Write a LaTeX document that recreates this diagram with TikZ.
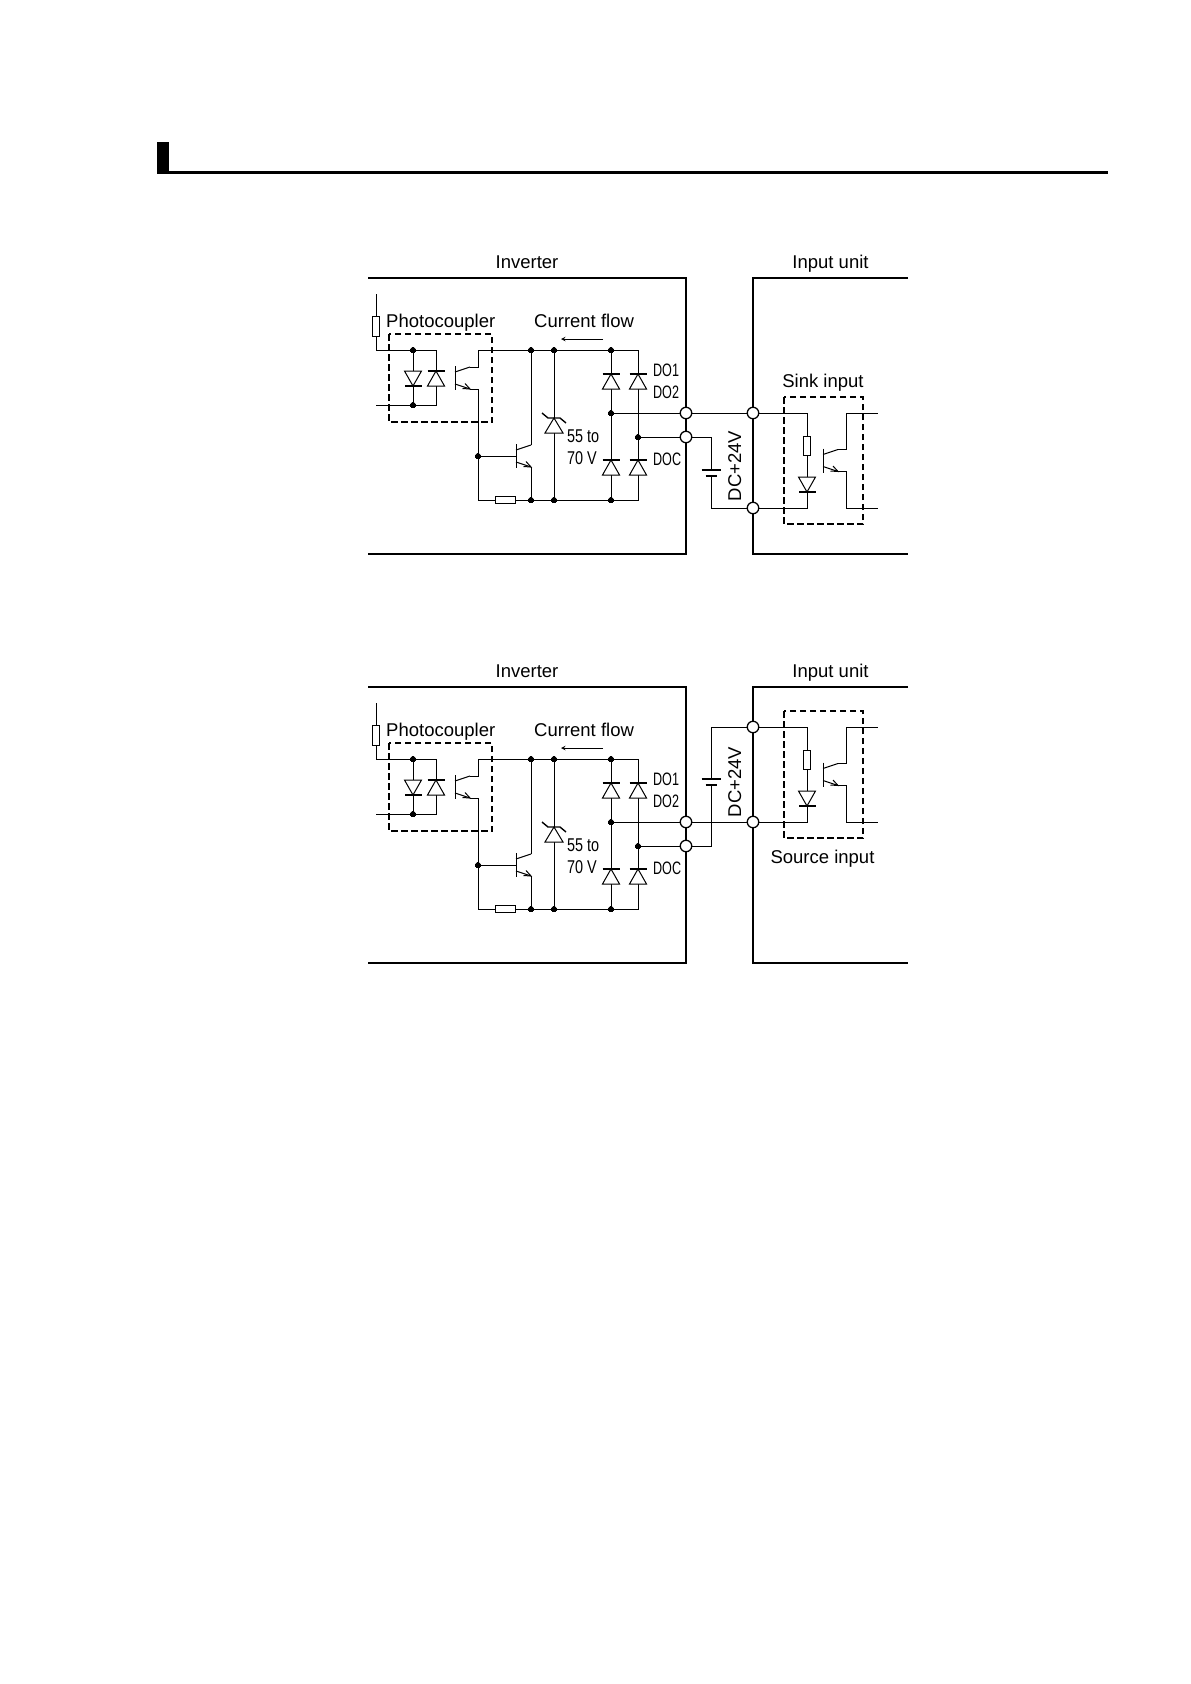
\documentclass[tikz,border=0pt]{standalone}
\usepackage{fontspec}
\setmainfont{Liberation Sans}
\usepackage{tikz}
\usetikzlibrary{arrows}

\tikzset{
    wire/.style={line width=1pt},
    frame/.style={line width=2pt},
    plate/.style={line width=1.8pt},
    dashbox/.style={line width=1.6pt, dash pattern=on 6.5pt off 3.5pt},
    dot/.style={draw, circle, fill=black, inner sep=0pt, minimum size=5.5pt, line width=0pt},
    term/.style={draw, circle, fill=white, inner sep=0pt, minimum size=11.5pt, line width=1.3pt},
    res/.style={draw, fill=white, inner sep=0pt, line width=1pt},
    lbl/.style={inner sep=0pt, anchor=base, font=\fontsize{18.5}{20}\selectfont},
    lblsmall/.style={inner sep=0pt, anchor=base west, font=\fontsize{18.5}{20}\selectfont, xscale=0.78, transform shape},
    lblpin/.style={inner sep=0pt, anchor=base west, font=\fontsize{18}{20}\selectfont, xscale=0.7, transform shape},
    diode/.pic={
        \draw[wire, fill=white] (0,0) -- (-8.5,15) -- (8.5,15) -- cycle;
        \draw[plate] (-8.5,0) -- (8.5,0);
    },
    battery/.pic={
        \fill[white] (-9.5,0.5) rectangle (9.5,5.5);
        \draw[plate] (-9.5,0) -- (9.5,0);
        \draw[line width=2.2pt] (-5.5,6) -- (5.5,6);
    },
    bjt/.pic={
        \coordinate (b) at (0,0);
        \coordinate (c) at (15,-11);
        \coordinate (e) at (15,11);
        \draw[wire] (0,-12) -- (0,12);
        \draw[wire] (0,-6) -- (c);
        \draw[wire] (0,6) -- (e);
        \draw[wire] (10,5.5) -- (15,11) -- (7.5,10.5);
    },
    inverter/.pic={
        % Boxes and their titles
        \draw[frame] (368,278) -| (686,554) -- (368,554);
        \draw[frame] (908,278) -| (753,554) -- (908,554);
        \node[lbl] (title) at (527,268) {Inverter};
        \node[lbl] (unit) at (830.5,268) {Input unit};
        % Nodes on the rails
        \coordinate (in) at (376,294);
        \coordinate (out) at (376,405);
        \coordinate (k) at (376,350);
        \coordinate (g1) at (436,350);
        \coordinate (g2) at (436,405);
        \coordinate (h1) at (478,350);
        \coordinate (h2) at (478,500);
        \coordinate (e1) at (638,350);
        \coordinate (e2) at (638,500);
        \coordinate (cf1) at (603,339);
        \coordinate (cf2) at (561,339);
        \node[dot] (a1) at (413,350) {};
        \node[dot] (a2) at (413,405) {};
        \node[dot] (b) at (478,456) {};
        \node[dot] (c1) at (531,350) {};
        \node[dot] (c2) at (554,350) {};
        \node[dot] (c3) at (611,350) {};
        \node[dot] (d1) at (531,500) {};
        \node[dot] (d2) at (554,500) {};
        \node[dot] (d3) at (611,500) {};
        \node[dot] (f1) at (611,413) {};
        \node[dot] (f2) at (638,437) {};
        % Wires
        \pic (q1) at (455,378) {bjt};
        \pic (q2) at (516,456) {bjt};
        \draw[wire] (in) -- (k) -- (a1) -- (g1) -- (g2) -- (a2) -- (out);
        \draw[wire] (a1) -- (a2);
        \draw[wire] (h1) -- (c1) -- (c2) -- (c3) -- (e1) -- (e2) -- (d3) -- (d2) -- (d1) -- (h2);
        \draw[wire] (q1c) -| (h1);
        \draw[wire] (q1e) -| (b);
        \draw[wire] (b) -- (h2);
        \draw[wire] (b) -- (q2b);
        \draw[wire] (q2c) -| (c1);
        \draw[wire] (q2e) -| (d1);
        \draw[wire] (c2) -- (d2);
        \draw[wire] (c3) -- (f1) -- (d3);
        \draw[wire] (f1) -- (686,413);
        \draw[wire] (f2) -- (686,437);
        \draw[wire, ->] (cf1) -- (cf2);
        % Parts on the wires
        \node[res, minimum width=6.5pt, minimum height=20pt] (r1) at (376,326) {};
        \node[res, minimum width=19.5pt, minimum height=7pt] (r2) at (505.5,500) {};
        \pic[rotate=180] (d1) at (413,386) {diode};
        \pic (d2) at (436,371) {diode};
        \pic (d3) at (611,374) {diode};
        \pic (d4) at (638,374) {diode};
        \pic (d5) at (611,460) {diode};
        \pic (d6) at (638,460) {diode};
        \draw[wire, fill=white] (554,418) -- (545,433) -- (563,433) -- cycle;
        \draw[line width=1.4pt] (542,413) -- (548,418) -- (560,418) -- (566,423);
        \draw[dashbox] (389,334) rectangle (492,422);
        % Terminals and labels
        \node[term] (t1) at (686,413) {};
        \node[term] (t2) at (686,437) {};
        \node[lbl, anchor=base west] (pc) at (386,327) {Photocoupler};
        \node[lbl, anchor=base west] (cf) at (534,327) {Current flow};
        \node[lblpin] (do1) at (653,376) {DO1};
        \node[lblpin] (do2) at (653,398) {DO2};
        \node[lblpin] (doc) at (653,465) {DOC};
        \node[lblsmall] (v1) at (567,442) {55 to};
        \node[lblsmall] (v2) at (567,464) {70 V};
    },
    inputcct/.pic={
        \coordinate (j1) at (807,413);
        \coordinate (j2) at (807,508);
        \coordinate (k1) at (846,413);
        \coordinate (k2) at (846,508);
        \coordinate (o1) at (878,413);
        \coordinate (o2) at (878,508);
        \node[term] (u1) at (753,413) {};
        \node[term] (u2) at (753,508) {};
        \pic (q3) at (823,460.5) {bjt};
        \draw[wire] (u1) -- (j1) -- (j2) -- (u2);
        \draw[wire] (q3c) -| (k1) -- (o1);
        \draw[wire] (q3e) -| (k2) -- (o2);
        \node[res, minimum width=6.5pt, minimum height=19pt] (r3) at (807,445.5) {};
        \pic[rotate=180] (d7) at (807,492) {diode};
        \draw[dashbox] (784,397) rectangle (863,524);
    }
}

\begin{document}
\begin{tikzpicture}[x=1pt, y=-1pt, >=stealth]
    \useasboundingbox (0,0) rectangle (1191,1684);
    % Heading mark
    \fill (157,142) rectangle (169,174);
    \fill (157,171) rectangle (1108,174);

    % Sink input
    \pic (top) at (0,0) {inverter};
    \pic (topin) at (0,0) {inputcct};
    \coordinate (topc) at (711,508);
    \draw[wire] (topt1) -- (topinu1);
    \draw[wire] (topt2) -| (topc) -- (topinu2);
    \pic (topbat) at (711,470) {battery};
    \node[lbl, rotate=90] (toplbl) at (741,466) {DC+24V};
    \node[lbl] (sink) at (823,387) {Sink input};

    % Source input
    \pic (bot) at (0,409) {inverter};
    \pic (botin) at (0,314) {inputcct};
    \coordinate (botc) at (711,727);
    \draw[wire] (bott1) -- (botinu2);
    \draw[wire] (bott2) -| (botc) -- (botinu1);
    \pic (botbat) at (711,779) {battery};
    \node[lbl, rotate=90] (botlbl) at (741,782) {DC+24V};
    \node[lbl] (source) at (822.5,863) {Source input};
\end{tikzpicture}
\end{document}
